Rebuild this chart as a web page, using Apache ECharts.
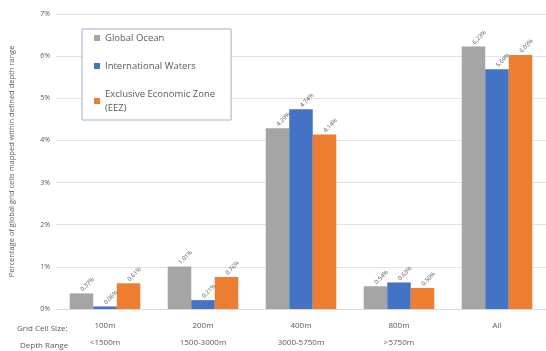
<!DOCTYPE html>
<html>
<head>
<meta charset="utf-8">
<script src="https://cdn.jsdelivr.net/npm/echarts@6/dist/echarts.min.js"></script>
<style>
  html, body { margin: 0; padding: 0; background: #fff; }
  #chart { width: 546px; height: 351px; }
</style>
</head>
<body>
<div id="chart"></div>
<script>
// Grid cell size / depth range groups
const cellSizes = ['100m', '200m', '400m', '800m', 'All'];
const depthRanges = ['<1500m', '1500-3000m', '3000-5750m', '>5750m', ''];

// Percentage of global grid cells mapped within each depth range
const globalOcean = [0.37, 1.01, 4.29, 0.54, 6.23];
const internationalWaters = [0.06, 0.21, 4.74, 0.63, 5.69];
const eez = [0.61, 0.76, 4.14, 0.50, 6.03];

const yTicks = [0, 1, 2, 3, 4, 5, 6, 7];

const textColor = '#595959';
const font = 'Open Sans';

const categories = cellSizes.map((s, i) => depthRanges[i] ? s + '\n' + depthRanges[i] : s);

function barLabel() {
  return {
    show: true,
    position: 'top',
    rotate: 45,
    align: 'left',
    verticalAlign: 'middle',
    distance: 3,
    fontSize: 6,
    color: textColor,
    fontFamily: font,
    formatter: p => p.value.toFixed(2) + '%'
  };
}

const chart = echarts.init(document.getElementById('chart'));
chart.setOption({
  animation: false,
  backgroundColor: '#fff',
  grid: { left: 55, top: 14, width: 502, height: 305 },
  legend: {
    show: true,
    orient: 'vertical',
    left: 82,
    top: 29,
    padding: [2, 16, 5, 12],
    itemGap: 14,
    itemWidth: 6,
    itemHeight: 6,
    icon: 'rect',
    borderColor: '#9fb3c8',
    borderWidth: 1,
    backgroundColor: '#fff',
    textStyle: { fontSize: 9.5, color: textColor, fontFamily: font, lineHeight: 14 },
    data: ['Global Ocean', 'International Waters', 'Exclusive Economic Zone\n(EEZ)']
  },
  xAxis: {
    type: 'category',
    data: categories,
    axisLine: { show: true, lineStyle: { color: '#d9d9d9' } },
    axisTick: { show: false },
    axisLabel: {
      color: textColor, fontSize: 8, fontFamily: font,
      lineHeight: 17, margin: 8, interval: 0
    }
  },
  yAxis: {
    type: 'value',
    min: yTicks[0],
    max: yTicks[yTicks.length - 1],
    interval: 1,
    name: 'Percentage of global grid cells mapped within defined depth range',
    nameLocation: 'middle',
    nameGap: 40,
    nameTextStyle: { fontSize: 7.5, color: textColor, fontFamily: font },
    axisLine: { show: false },
    axisTick: { show: false },
    axisLabel: { color: textColor, fontSize: 7, fontFamily: font, margin: 6, formatter: v => v + '%' },
    splitLine: { lineStyle: { color: '#e3e3e3' } }
  },
  graphic: [
    { type: 'text', left: 17, top: 325, style: { text: 'Grid Cell Size:', fontSize: 8, fill: textColor, fontFamily: font } },
    { type: 'text', left: 20, top: 342, style: { text: 'Depth Range', fontSize: 8, fill: textColor, fontFamily: font } }
  ],
  series: [
    { name: 'Global Ocean', type: 'bar', data: globalOcean, itemStyle: { color: '#a5a5a5' }, barGap: '0%', barCategoryGap: '28%', label: barLabel() },
    { name: 'International Waters', type: 'bar', data: internationalWaters, itemStyle: { color: '#4472c4' }, label: barLabel() },
    { name: 'Exclusive Economic Zone\n(EEZ)', type: 'bar', data: eez, itemStyle: { color: '#ed7d31' }, label: barLabel() }
  ]
});
</script>
</body>
</html>
